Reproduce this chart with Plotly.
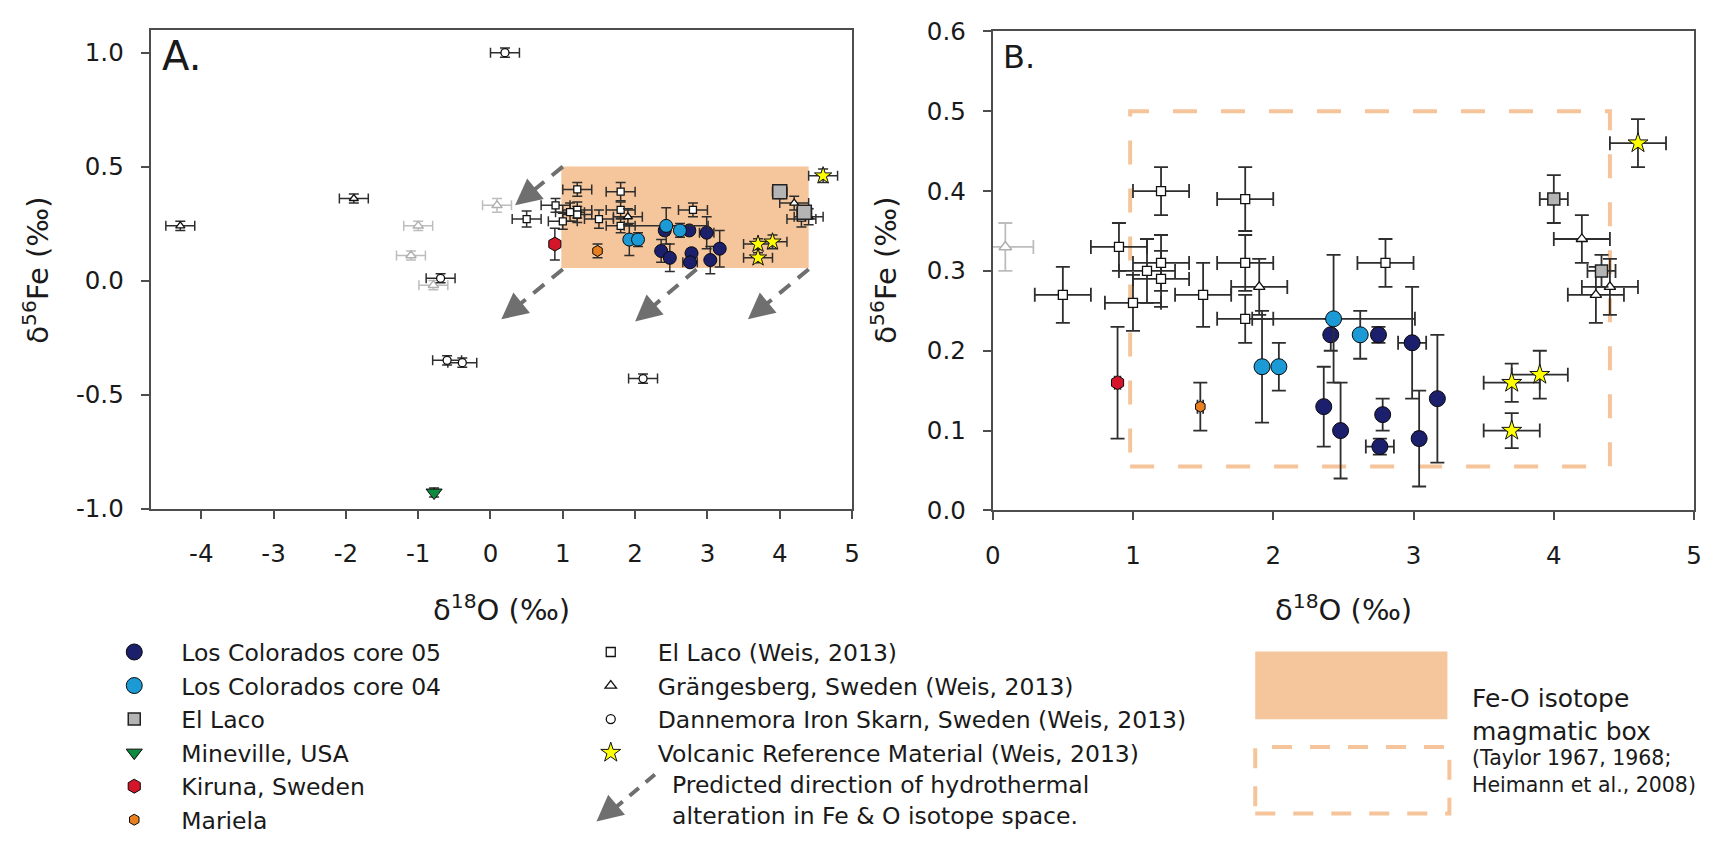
import plotly.graph_objects as go

W, H = 1711, 849

# ---------------- data: delta-18O and delta-56Fe (per mil) with uncertainties ----------------
lc05_o = [2.41, 2.75, 2.99, 2.36, 2.48, 2.78, 2.76, 3.04, 3.17]
lc05_fe = [0.22, 0.22, 0.21, 0.13, 0.10, 0.12, 0.08, 0.09, 0.14]
lc05_o_err = [0.02, 0.03, 0.10, 0.02, 0.02, 0.02, 0.10, 0.03, 0.02]
lc05_fe_err = [0.02, 0.01, 0.07, 0.05, 0.06, 0.02, 0.01, 0.06, 0.08]

lc04_o = [2.43, 1.92, 2.04, 2.62]
lc04_fe = [0.24, 0.18, 0.18, 0.22]
lc04_o_err = [0.58, 0.03, 0.02, 0.02]
lc04_fe_err = [0.08, 0.07, 0.03, 0.03]

laco_o = [4.00, 4.34]
laco_fe = [0.39, 0.30]
laco_o_err = [0.10, 0.10]
laco_fe_err = [0.03, 0.02]

mineville_o = [-0.78]
mineville_fe = [-0.93]
mineville_o_err = [0.0]
mineville_fe_err = [0.02]

kiruna_o = [0.89]
kiruna_fe = [0.16]
kiruna_o_err = [0.02]
kiruna_fe_err = [0.07]

mariela_o = [1.48]
mariela_fe = [0.13]
mariela_o_err = [0.02]
mariela_fe_err = [0.03]

weis_laco_o = [1.2, 1.8, 0.9, 1.2, 1.1, 1.2, 1.8, 0.5, 1.5, 1.0, 1.8, 2.8]
weis_laco_fe = [0.40, 0.39, 0.33, 0.31, 0.30, 0.29, 0.31, 0.27, 0.27, 0.26, 0.24, 0.31]
weis_laco_o_err = [0.2] * 12
weis_laco_fe_err = [0.03, 0.04, 0.03, 0.035, 0.04, 0.035, 0.035, 0.035, 0.04, 0.035, 0.03, 0.03]

grange_o = [-4.29, -1.89, 1.90, 4.20, 4.30, 4.40]
grange_fe = [0.24, 0.36, 0.28, 0.34, 0.27, 0.28]
grange_o_err = [0.2] * 6
grange_fe_err = [0.02, 0.02, 0.035, 0.03, 0.035, 0.035]

grange_grey_o = [0.09, -1.00, -1.10, -0.79]
grange_grey_fe = [0.33, 0.24, 0.11, -0.02]
grange_grey_o_err = [0.2] * 4
grange_grey_fe_err = [0.03, 0.02, 0.02, 0.02]

danne_o = [0.20, -0.69, -0.60, -0.39, 2.11]
danne_fe = [1.00, 0.01, -0.35, -0.36, -0.43]
danne_o_err = [0.2] * 5
danne_fe_err = [0.02] * 5

volc_o = [4.60, 3.70, 3.90, 3.70]
volc_fe = [0.46, 0.16, 0.17, 0.10]
volc_o_err = [0.2] * 4
volc_fe_err = [0.03, 0.024, 0.03, 0.022]

# magmatic Fe-O box and hydrothermal alteration vectors
box_o = [0.98, 4.40]
box_fe = [0.055, 0.50]
arrow_o_start = [1.00, 1.00, 2.85, 4.40]
arrow_fe_start = [0.50, 0.05, 0.05, 0.05]
arrow_o_end = [0.34, 0.15, 2.00, 3.56]
arrow_fe_end = [0.33, -0.17, -0.18, -0.17]

# axis ticks
a_xticks = [-4, -3, -2, -1, 0, 1, 2, 3, 4, 5]
a_xticktext = ["-4", "-3", "-2", "-1", "0", "1", "2", "3", "4", "5"]
a_yticks = [-1.0, -0.5, 0.0, 0.5, 1.0]
a_yticktext = ["-1.0", "-0.5", "0.0", "0.5", "1.0"]
b_xticks = [0, 1, 2, 3, 4, 5]
b_yticks = [0.0, 0.1, 0.2, 0.3, 0.4, 0.5, 0.6]
b_yticktext = ["0.0", "0.1", "0.2", "0.3", "0.4", "0.5", "0.6"]


def px(x):
    return x / W


def py(y):
    return 1 - y / H


FONT = "DejaVu Sans, Verdana, sans-serif"
INK = "#1a1a1a"
ERR = "#2e2e2e"
PEACH = "#f5c59b"
ARROW = "#6f6f6f"

series = [
    dict(name="Grängesberg (grey)", o=grange_grey_o, fe=grange_grey_fe, eo=grange_grey_o_err,
         efe=grange_grey_fe_err, symbol="triangle-up", fill="white", edge="#b0b0b0", ew=1.5,
         size=(9, 11), err="#bdbdbd", legend=None, rank=99),
    dict(name="El Laco (Weis, 2013)", o=weis_laco_o, fe=weis_laco_fe, eo=weis_laco_o_err,
         efe=weis_laco_fe_err, symbol="square", fill="white", edge="#111111", ew=1.3,
         size=(7, 9), err=ERR, legend="legend2", rank=1),
    dict(name="Grängesberg, Sweden (Weis, 2013)", o=grange_o, fe=grange_fe, eo=grange_o_err,
         efe=grange_fe_err, symbol="triangle-up", fill="white", edge="#111111", ew=1.3,
         size=(8, 10), err=ERR, legend="legend2", rank=2),
    dict(name="Dannemora Iron Skarn, Sweden (Weis, 2013)", o=danne_o, fe=danne_fe, eo=danne_o_err,
         efe=danne_fe_err, symbol="circle", fill="white", edge="#111111", ew=1.3,
         size=(8, 9), err=ERR, legend="legend2", rank=3),
    dict(name="Los Colorados core 05", o=lc05_o, fe=lc05_fe, eo=lc05_o_err, efe=lc05_fe_err,
         symbol="circle", fill="#1c1f6b", edge="#0a0a0a", ew=1, size=(13, 16), err=ERR,
         legend="legend", rank=1),
    dict(name="Los Colorados core 04", o=lc04_o, fe=lc04_fe, eo=lc04_o_err, efe=lc04_fe_err,
         symbol="circle", fill="#1b9ad6", edge="#0a0a0a", ew=1, size=(13, 16), err=ERR,
         legend="legend", rank=2),
    dict(name="El Laco", o=laco_o, fe=laco_fe, eo=laco_o_err, efe=laco_fe_err,
         symbol="square", fill="#b4b4b4", edge="#222222", ew=1.5, size=(14, 12), err=ERR,
         legend="legend", rank=3),
    dict(name="Mineville, USA", o=mineville_o, fe=mineville_fe, eo=mineville_o_err,
         efe=mineville_fe_err, symbol="triangle-down", fill="#0c8a3d", edge="#0a0a0a", ew=1,
         size=(14, 14), err=ERR, legend="legend", rank=4),
    dict(name="Kiruna, Sweden", o=kiruna_o, fe=kiruna_fe, eo=kiruna_o_err, efe=kiruna_fe_err,
         symbol="hexagon", fill="#d5162a", edge="#0a0a0a", ew=1, size=(14, 14), err=ERR,
         legend="legend", rank=5),
    dict(name="Mariela", o=mariela_o, fe=mariela_fe, eo=mariela_o_err, efe=mariela_fe_err,
         symbol="hexagon", fill="#e8801f", edge="#0a0a0a", ew=1, size=(11, 11), err=ERR,
         legend="legend", rank=6),
    dict(name="Volcanic Reference Material (Weis, 2013)", o=volc_o, fe=volc_fe, eo=volc_o_err,
         efe=volc_fe_err, symbol="star", fill="#ffff00", edge="#111111", ew=1, size=(13, 15),
         err=ERR, legend="legend2", rank=4),
]

fig = go.Figure()

for s in series:
    for panel, (xa, ya) in enumerate([("x", "y"), ("x2", "y2")]):
        thick = 1.5 if panel == 0 else 1.8
        cap = 5 if panel == 0 else 7
        show = panel == 1 and s["legend"] is not None
        fig.add_trace(go.Scatter(
            x=s["o"], y=s["fe"], mode="markers", name=s["name"],
            xaxis=xa, yaxis=ya,
            marker=dict(symbol=s["symbol"], size=s["size"][panel], color=s["fill"],
                        line=dict(color=s["edge"], width=s["ew"])),
            error_x=dict(type="data", array=s["eo"], color=s["err"], thickness=thick, width=cap),
            error_y=dict(type="data", array=s["efe"], color=s["err"], thickness=thick, width=cap),
            showlegend=show,
            legend=s["legend"] if s["legend"] else "legend",
            legendrank=s["rank"],
            hoverinfo="skip",
        ))

shapes = []
annotations = []

# panel A: filled magmatic box
shapes.append(dict(type="rect", xref="x", yref="y", x0=box_o[0], x1=box_o[1],
                   y0=box_fe[0], y1=box_fe[1], fillcolor=PEACH, line=dict(width=0),
                   layer="below"))
# panel B: dashed magmatic box
shapes.append(dict(type="rect", xref="x2", yref="y2", x0=box_o[0], x1=box_o[1],
                   y0=box_fe[0], y1=box_fe[1], fillcolor="rgba(0,0,0,0)",
                   line=dict(color="#f6c49a", width=4, dash="24px,24px"), layer="below"))

# panel A: dashed alteration arrows
for xs, ys, xe, ye in zip(arrow_o_start, arrow_fe_start, arrow_o_end, arrow_fe_end):
    xm = xs + 0.72 * (xe - xs)
    ym = ys + 0.72 * (ye - ys)
    shapes.append(dict(type="line", xref="x", yref="y", x0=xs, y0=ys, x1=xm, y1=ym,
                       line=dict(color=ARROW, width=4, dash="14px,10px")))
    annotations.append(dict(x=xe, y=ye, ax=xm, ay=ym, xref="x", yref="y", axref="x", ayref="y",
                            text="", showarrow=True, arrowhead=2, arrowsize=1.5,
                            arrowwidth=3.5, arrowcolor=ARROW))

# legend rows (px from top) used to line up the hand-drawn keys
ROW0, ROWH = 660, 33.55


def row(i):
    return ROW0 + ROWH * (i - 1)


# legend column 2: arrow key
shapes.append(dict(type="line", xref="paper", yref="paper", x0=px(653), y0=py(row(4.8)),
                   x1=px(612), y1=py(row(5.85)), line=dict(color=ARROW, width=4, dash="12px,9px")))
annotations.append(dict(x=px(594), y=py(row(6.25)), xref="paper", yref="paper", ax=18, ay=-15,
                        text="", showarrow=True, arrowhead=2, arrowsize=1.5, arrowwidth=3.5,
                        arrowcolor=ARROW))
annotations.append(dict(x=px(668), y=py(row(5.6)), xref="paper", yref="paper", xanchor="left",
                        yanchor="middle", align="left", showarrow=False,
                        text="Predicted direction of hydrothermal<br>alteration in Fe &amp; O isotope space.",
                        font=dict(size=23.5, color=INK, family=FONT)))

# legend column 3: magmatic box keys
shapes.append(dict(type="rect", xref="paper", yref="paper", x0=px(1259), x1=px(1453),
                   y0=py(row(3.09)), y1=py(row(1)), fillcolor=PEACH, line=dict(width=0)))
shapes.append(dict(type="rect", xref="paper", yref="paper", x0=px(1259), x1=px(1455),
                   y0=py(row(6)), y1=py(row(3.95)), fillcolor="rgba(0,0,0,0)",
                   line=dict(color="#f6c49a", width=4, dash="20px,18px")))
annotations.append(dict(x=px(1476), y=py(row(2.95)), xref="paper", yref="paper", xanchor="left",
                        yanchor="middle", align="left", showarrow=False,
                        text="Fe-O isotope<br>magmatic box",
                        font=dict(size=25, color=INK, family=FONT)))
annotations.append(dict(x=px(1476), y=py(row(4.72)), xref="paper", yref="paper", xanchor="left",
                        yanchor="middle", align="left", showarrow=False,
                        text="(Taylor 1967, 1968;<br>Heimann et al., 2008)",
                        font=dict(size=20.5, color=INK, family=FONT)))

# panel letters
annotations.append(dict(x=px(153), y=py(43), xref="paper", yref="paper", xanchor="left",
                        yanchor="middle", showarrow=False, text="A.",
                        font=dict(size=40, color=INK, family=FONT)))
annotations.append(dict(x=px(1002), y=py(45), xref="paper", yref="paper", xanchor="left",
                        yanchor="middle", showarrow=False, text="B.",
                        font=dict(size=32, color=INK, family=FONT)))

# axis titles
xt = "δ<sup>18</sup>O (‰)"
yt = "δ<sup>56</sup>Fe (‰)"
for cx in (498, 1348):
    annotations.append(dict(x=px(cx), y=py(615), xref="paper", yref="paper", xanchor="center",
                            yanchor="middle", showarrow=False, text=xt,
                            font=dict(size=29, color=INK, family=FONT)))
for cx in (28, 884):
    annotations.append(dict(x=px(cx), y=py(265), xref="paper", yref="paper", xanchor="center",
                            yanchor="middle", showarrow=False, text=yt, textangle=-90,
                            font=dict(size=29, color=INK, family=FONT)))

axis_common = dict(showgrid=False, zeroline=False, showline=True, linecolor="#4d4d4d",
                   linewidth=2, mirror=True, ticks="outside", ticklen=8, tickwidth=2,
                   tickcolor="#4d4d4d", tickfont=dict(size=24.5, color=INK, family=FONT))

legend_common = dict(xanchor="left", yanchor="top", bgcolor="rgba(0,0,0,0)", borderwidth=0,
                     font=dict(size=23.5, color=INK, family=FONT), itemwidth=84,
                     traceorder="normal", tracegroupgap=0, itemclick=False,
                     itemdoubleclick=False)

fig.update_layout(
    width=W, height=H, autosize=False,
    margin=dict(l=0, r=0, t=0, b=0),
    paper_bgcolor="white", plot_bgcolor="white",
    font=dict(family=FONT, color=INK),
    xaxis=dict(domain=[px(144), px(852)], range=[-4.7, 5.0], tickvals=a_xticks,
               ticktext=a_xticktext, anchor="y", ticklabelstandoff=14, **axis_common),
    yaxis=dict(domain=[py(512), py(17)], range=[-1.0, 1.0975], tickvals=a_yticks,
               ticktext=a_yticktext, anchor="x", ticklabelstandoff=12, **axis_common),
    xaxis2=dict(domain=[px(994), px(1702)], range=[0, 5], tickvals=b_xticks, anchor="y2",
                ticklabelstandoff=14, **axis_common),
    yaxis2=dict(domain=[py(514), py(18)], range=[0, 0.6], tickvals=b_yticks,
                ticktext=b_yticktext, anchor="x2", ticklabelstandoff=12, **axis_common),
    legend=dict(x=px(80), y=py(ROW0 - 22), **legend_common),
    legend2=dict(x=px(561), y=py(ROW0 - 22), **legend_common),
    shapes=shapes,
    annotations=annotations,
)

fig.write_html("out.html")
